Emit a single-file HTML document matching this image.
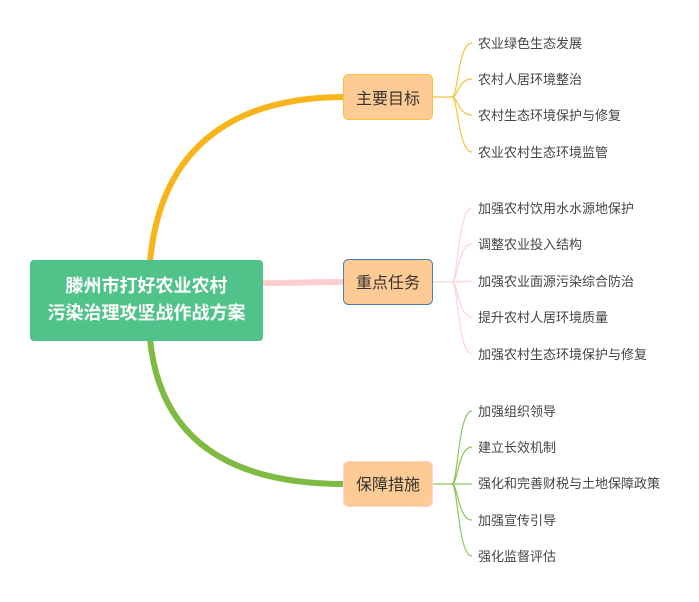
<!DOCTYPE html>
<html><head><meta charset="utf-8"><style>
html,body{margin:0;padding:0;background:#fff;}
svg{display:block}
text{font-family:"Liberation Sans","Noto Sans CJK SC",sans-serif;}
</style></head><body>
<svg width="699" height="602" viewBox="0 0 699 602" xmlns="http://www.w3.org/2000/svg">
<!-- main connectors -->
<path d="M150,262 C160,150 230,97 345,97" fill="none" stroke="#f8b41b" stroke-width="6"/>
<path d="M262,283 C300,283 310,282 345,282" fill="none" stroke="#ffcdcd" stroke-width="6"/>
<path d="M150,339 C160,440 230,484 345,484" fill="none" stroke="#7fba42" stroke-width="6"/>
<!-- branch 1 -->
<g fill="none" stroke="#f8c23a" stroke-width="1.2">
<path d="M433,97 L452,97"/>
<path d="M452,97 C458,97 458,43 472,43"/>
<path d="M452,97 C458,97 458,79 472,79"/>
<path d="M452,97 C458,97 458,115 472,115"/>
<path d="M452,97 C458,97 458,152 472,152"/>
</g>
<g fill="none" stroke="#ffd3d3" stroke-width="1.2">
<path d="M433,282 L452,282"/>
<path d="M452,282 C458,282 458,208 472,208"/>
<path d="M452,282 C458,282 458,244 472,244"/>
<path d="M452,282 L472,281"/>
<path d="M452,282 C458,282 458,317 472,317"/>
<path d="M452,282 C458,282 458,354 472,354"/>
</g>
<g fill="none" stroke="#8cc65a" stroke-width="1.2">
<path d="M433,484 L452,484"/>
<path d="M452,484 C458,484 458,411 472,411"/>
<path d="M452,484 C458,484 458,447 472,447"/>
<path d="M452,484 L472,484"/>
<path d="M452,484 C458,484 458,520 472,520"/>
<path d="M452,484 C458,484 458,556 472,556"/>
</g>
<!-- central -->
<rect x="30" y="260" width="233" height="81" rx="4" fill="#50c38b"/>
<text x="146.5" y="292" text-anchor="middle" font-size="18" font-weight="bold" fill="#fff">滕州市打好农业农村</text>
<text x="146.5" y="319" text-anchor="middle" font-size="18" font-weight="bold" fill="#fff">污染治理攻坚战作战方案</text>
<!-- branch nodes -->
<rect x="343.5" y="74.5" width="89" height="45" rx="5" fill="#ffcb94" stroke="#f8c23a"/>
<text x="388" y="104" text-anchor="middle" font-size="16" fill="#333">主要目标</text>
<rect x="343.5" y="259.5" width="89" height="45" rx="5" fill="#ffcb94" stroke="#4d7fb5"/>
<text x="388" y="288" text-anchor="middle" font-size="16" fill="#333">重点任务</text>
<rect x="343.5" y="461.5" width="89" height="45" rx="5" fill="#ffcb94" stroke="#ffd3d3"/>
<text x="388" y="490" text-anchor="middle" font-size="16" fill="#333">保障措施</text>
<!-- leaves -->
<g font-size="13" fill="#444">
<text x="478" y="48">农业绿色生态发展</text>
<text x="478" y="84">农村人居环境整治</text>
<text x="478" y="120">农村生态环境保护与修复</text>
<text x="478" y="157">农业农村生态环境监管</text>
<text x="478" y="213">加强农村饮用水水源地保护</text>
<text x="478" y="249">调整农业投入结构</text>
<text x="478" y="286">加强农业面源污染综合防治</text>
<text x="478" y="322">提升农村人居环境质量</text>
<text x="478" y="359">加强农村生态环境保护与修复</text>
<text x="478" y="416">加强组织领导</text>
<text x="478" y="452">建立长效机制</text>
<text x="478" y="488">强化和完善财税与土地保障政策</text>
<text x="478" y="525">加强宣传引导</text>
<text x="478" y="561">强化监督评估</text>
</g>
</svg>
</body></html>
